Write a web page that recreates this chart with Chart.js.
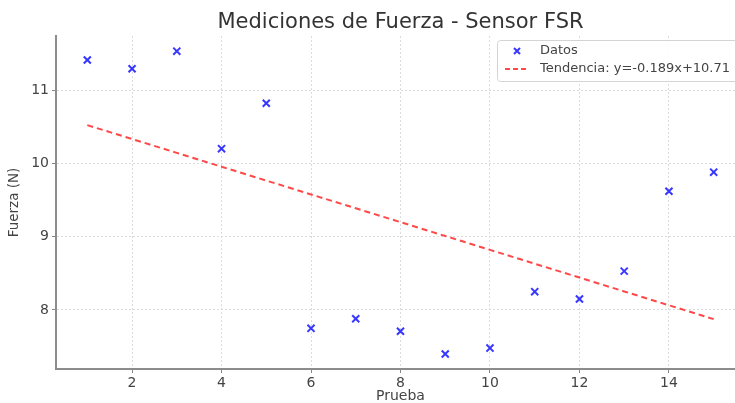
<!DOCTYPE html>
<html>
<head>
<meta charset="utf-8">
<script src="https://cdn.jsdelivr.net/npm/chart.js@4.4.1/dist/chart.umd.min.js"></script>
<style>
  html, body { margin: 0; padding: 0; background: #fff; overflow: hidden; }
  #wrap { position: relative; width: 760px; height: 403px; }
</style>
</head>
<body>
<div id="wrap"><canvas id="c" width="760" height="403"></canvas></div>
<script>
// Trial number and measured force (N)
const pruebas = [1, 2, 3, 4, 5, 6, 7, 8, 9, 10, 11, 12, 13, 14, 15];
const fuerza = [11.41, 11.29, 11.53, 10.20, 10.82, 7.75, 7.88, 7.71, 7.40, 7.48, 8.25, 8.15, 8.53, 9.62, 9.88];

// Linear fit coefficients shown in the legend
const pendiente = -0.189;
const intercepto = 10.71;

// Axis ticks
const xTicks = [2, 4, 6, 8, 10, 12, 14];
const yTicks = [8, 9, 10, 11];

const titulo = 'Mediciones de Fuerza - Sensor FSR';
const etiquetaDatos = 'Datos';
const etiquetaTendencia = 'Tendencia: y=' + pendiente + 'x+' + intercepto;

const FONT = "'DejaVu Sans', sans-serif";

const tendencia = pruebas.map(x => ({ x: x, y: pendiente * x + intercepto }));
const puntos = pruebas.map((x, i) => ({ x: x, y: fuerza[i] }));

// Title centred over the plot area
const titlePlugin = {
  id: 'plotTitle',
  afterDraw(chart) {
    const { ctx, chartArea } = chart;
    ctx.save();
    ctx.font = '21px ' + FONT;
    ctx.fillStyle = '#333';
    ctx.textAlign = 'center';
    ctx.textBaseline = 'alphabetic';
    ctx.fillText(titulo, (chartArea.left + chartArea.right) / 2, 28);
    ctx.restore();
  }
};

// Legend box in the upper right corner of the plot
const legendPlugin = {
  id: 'boxLegend',
  afterDraw(chart) {
    const { ctx, chartArea } = chart;
    const x0 = 497, y0 = chartArea.top + 4, w = 300, h = 41;
    ctx.save();
    ctx.fillStyle = 'rgba(255,255,255,0.85)';
    ctx.strokeStyle = '#d4d4d4';
    ctx.lineWidth = 1;
    ctx.beginPath();
    ctx.roundRect(x0 + 0.5, y0 + 0.5, w, h, 3);
    ctx.fill();
    ctx.stroke();

    // marker
    const mx = 517, my = y0 + 11, r = 3;
    ctx.strokeStyle = 'rgba(20,20,255,0.85)';
    ctx.lineWidth = 2;
    ctx.beginPath();
    ctx.moveTo(mx - r, my - r); ctx.lineTo(mx + r, my + r);
    ctx.moveTo(mx + r, my - r); ctx.lineTo(mx - r, my + r);
    ctx.stroke();

    // dashed line
    const ly = y0 + 29;
    ctx.strokeStyle = 'rgba(255,40,40,0.85)';
    ctx.setLineDash([5, 3]);
    ctx.beginPath();
    ctx.moveTo(505, ly); ctx.lineTo(529, ly);
    ctx.stroke();
    ctx.setLineDash([]);

    ctx.font = '13px ' + FONT;
    ctx.fillStyle = '#444';
    ctx.textBaseline = 'middle';
    ctx.textAlign = 'left';
    ctx.fillText(etiquetaDatos, 540, my);
    ctx.fillText(etiquetaTendencia, 540, ly);
    ctx.restore();
  }
};

new Chart(document.getElementById('c'), {
  type: 'scatter',
  data: {
    datasets: [
      {
        label: etiquetaDatos,
        data: puntos,
        pointStyle: 'crossRot',
        pointRadius: 5,
        pointHoverRadius: 5,
        pointBorderWidth: 2,
        borderColor: 'rgba(20,20,255,0.85)',
        backgroundColor: 'rgba(20,20,255,0.85)',
        showLine: false,
        order: 1
      },
      {
        label: etiquetaTendencia,
        data: tendencia,
        type: 'line',
        showLine: true,
        borderColor: 'rgba(255,40,40,0.85)',
        borderWidth: 2,
        borderDash: [6, 4],
        pointRadius: 0,
        fill: false,
        tension: 0,
        order: 2
      }
    ]
  },
  options: {
    responsive: false,
    animation: false,
    events: [],
    layout: { padding: { left: 0, right: 15, top: 36, bottom: 0 } },
    plugins: {
      legend: { display: false },
      title: { display: false },
      tooltip: { enabled: false }
    },
    scales: {
      x: {
        type: 'linear',
        min: 0.3,
        max: 15.7,
        afterBuildTicks: s => { s.ticks = xTicks.map(v => ({ value: v })); },
        afterFit: s => { s.height = 34; },
        ticks: {
          font: { family: FONT, size: 14 },
          color: '#444',
          padding: 2,
          maxRotation: 0,
          callback: v => String(v)
        },
        grid: {
          color: '#dcdcdc',
          lineWidth: 1,
          tickColor: '#888',
          tickLength: 4,
          tickWidth: 1
        },
        border: { display: true, color: '#8c8c8c', width: 2, dash: [2, 2] },
        title: {
          display: true,
          text: 'Prueba',
          font: { family: FONT, size: 14 },
          color: '#444',
          padding: { top: 0, bottom: -2 }
        }
      },
      y: {
        type: 'linear',
        min: 7.195,
        max: 11.737,
        afterBuildTicks: s => { s.ticks = yTicks.map(v => ({ value: v })); },
        afterFit: s => { s.width = 56; },
        ticks: {
          font: { family: FONT, size: 14 },
          color: '#444',
          padding: 3,
          callback: v => String(v)
        },
        grid: {
          color: '#dcdcdc',
          lineWidth: 1,
          tickColor: '#888',
          tickLength: 4,
          tickWidth: 1
        },
        border: { display: true, color: '#8c8c8c', width: 2, dash: [2, 2] },
        title: {
          display: true,
          text: 'Fuerza (N)',
          font: { family: FONT, size: 13.5 },
          color: '#444',
          padding: { top: 6, bottom: 2 }
        }
      }
    }
  },
  plugins: [titlePlugin, legendPlugin]
});
</script>
</body>
</html>
